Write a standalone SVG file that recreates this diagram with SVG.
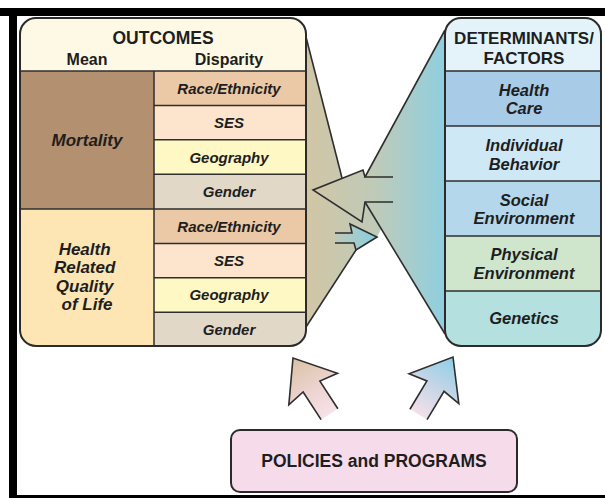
<svg xmlns="http://www.w3.org/2000/svg" width="605" height="498" viewBox="0 0 605 498">
  <style>
    .edge { fill: none; stroke: #2e2e2e; stroke-width: 1.6; stroke-linejoin: miter; }
    .frame { fill: none; stroke: #2b2b2b; stroke-width: 2; }
    .grid { stroke: #2e2e2e; stroke-width: 1.5; }
    .hdr { font-family: "Liberation Sans", Arial, sans-serif; font-weight: bold; fill: #1e1e1e; text-anchor: middle; }
    .lbl { font-family: "Liberation Sans", Arial, sans-serif; font-weight: bold; font-style: italic; fill: #1e1e1e; text-anchor: middle; }
  </style>
  <defs>
    <linearGradient id="coneFill" gradientUnits="userSpaceOnUse" x1="306" y1="0" x2="445" y2="0">
      <stop offset="0" stop-color="#d2c6a6"/>
      <stop offset="0.5" stop-color="#bfcab8"/>
      <stop offset="1" stop-color="#8fcfe0"/>
    </linearGradient>
    <linearGradient id="smallArrowFill" gradientUnits="userSpaceOnUse" x1="335" y1="0" x2="377" y2="0">
      <stop offset="0" stop-color="#bfcab8"/>
      <stop offset="1" stop-color="#86cfe0"/>
    </linearGradient>
    <linearGradient id="tanUp" x1="0" y1="0" x2="0" y2="1">
      <stop offset="0" stop-color="#d9c2a3"/>
      <stop offset="0.55" stop-color="#ecd3cf"/>
      <stop offset="1" stop-color="#f6e2ea"/>
    </linearGradient>
    <linearGradient id="blueUp" x1="0" y1="0" x2="0" y2="1">
      <stop offset="0" stop-color="#8dcfe8"/>
      <stop offset="0.55" stop-color="#c9d6e6"/>
      <stop offset="1" stop-color="#f3e0ea"/>
    </linearGradient>
    <clipPath id="outcomesClip"><rect x="20" y="18" width="286" height="328" rx="16"/></clipPath>
    <clipPath id="factorsClip"><rect x="445" y="18" width="156" height="328" rx="16"/></clipPath>
  </defs>

  <rect width="605" height="498" fill="#ffffff"/>

  <!-- black border strips -->
  <g id="border" fill="#000000">
    <rect x="0" y="8" width="605" height="8"/>
    <rect x="9" y="8" width="8" height="490"/>
    <rect x="9" y="495" width="596" height="3"/>
  </g>

  <!-- funnels and arrows linking the panels -->
  <g id="connectors">
    <polygon fill="url(#coneFill)" points="306,37 342,178 313,190 362,222 365,202 381,229 377,237 356,250 306,327"/>
    <polygon fill="url(#coneFill)" points="445,30 365,177 365,202 445,334"/>
    <polygon fill="url(#coneFill)" points="313,190 363,170 365,177 393,177 393,202 365,202 362,222"/>
    <polyline class="edge" points="306,37 342,178"/>
    <polyline class="edge" points="445,30 365,177 393,177"/>
    <polyline class="edge" points="365,177 363,170 313,190 362,222 365,202 393,202"/>
    <polyline class="edge" points="365,202 445,334"/>
    <polyline class="edge" points="306,327 356,250"/>
    <!-- small arrow toward the determinants -->
    <path class="edge" style="fill:url(#smallArrowFill)" d="M335,233 L352,233 L350,224 L377,237 L356,250 L354,243 L335,243"/>
    <!-- policy arrows -->
    <path transform="translate(293,358) rotate(-33)" class="edge" style="fill:url(#tanUp)" d="M-10,67 L-10,34 L-29,37 L0,0 L29,37 L10,34 L10,67"/>
    <path transform="translate(453,357) rotate(31)" class="edge" style="fill:url(#blueUp)" d="M-10,67 L-10,34 L-29,37 L0,0 L29,37 L10,34 L10,67"/>
  </g>

  <!-- OUTCOMES panel -->
  <g id="outcomes">
    <g clip-path="url(#outcomesClip)">
      <rect x="20" y="18" width="286" height="53" fill="#fdf9e4"/>
      <rect x="20" y="71" width="134" height="138" fill="#b3906f"/>
      <rect x="20" y="209" width="134" height="137" fill="#fde6b4"/>
      <rect x="154" y="71" width="152" height="34.4" fill="#ebc9a6"/>
      <rect x="154" y="105.4" width="152" height="34.4" fill="#fde4cd"/>
      <rect x="154" y="139.8" width="152" height="34.4" fill="#fef8c5"/>
      <rect x="154" y="174.2" width="152" height="34.8" fill="#e1d8c8"/>
      <rect x="154" y="209" width="152" height="34.4" fill="#ebc9a6"/>
      <rect x="154" y="243.4" width="152" height="34.4" fill="#fde4cd"/>
      <rect x="154" y="277.8" width="152" height="34.4" fill="#fef8c5"/>
      <rect x="154" y="312.2" width="152" height="34" fill="#e1d8c8"/>
    </g>
    <g class="grid">
      <line x1="20" y1="71" x2="306" y2="71"/>
      <line x1="20" y1="209" x2="306" y2="209"/>
      <line x1="154" y1="71" x2="154" y2="346"/>
      <line x1="154" y1="105.4" x2="306" y2="105.4"/>
      <line x1="154" y1="139.8" x2="306" y2="139.8"/>
      <line x1="154" y1="174.2" x2="306" y2="174.2"/>
      <line x1="154" y1="243.4" x2="306" y2="243.4"/>
      <line x1="154" y1="277.8" x2="306" y2="277.8"/>
      <line x1="154" y1="312.2" x2="306" y2="312.2"/>
    </g>
    <rect class="frame" x="20" y="18" width="286" height="328" rx="16"/>
    <text class="hdr" x="163" y="43.5" font-size="17.5">OUTCOMES</text>
    <text class="hdr" x="87" y="64.5" font-size="16">Mean</text>
    <text class="hdr" x="229" y="64.5" font-size="16">Disparity</text>
    <text class="lbl" x="87" y="146" font-size="17">Mortality</text>
    <text class="lbl" font-size="17">
      <tspan x="87" y="255">Health</tspan>
      <tspan x="87" y="273.3">Related</tspan>
      <tspan x="87" y="291.6">Quality</tspan>
      <tspan x="87" y="310">of Life</tspan>
    </text>
    <text class="lbl" x="229" y="93.7" font-size="15">Race/Ethnicity</text>
    <text class="lbl" x="229" y="128.1" font-size="15">SES</text>
    <text class="lbl" x="229" y="162.5" font-size="15">Geography</text>
    <text class="lbl" x="229" y="197" font-size="15">Gender</text>
    <text class="lbl" x="229" y="231.5" font-size="15">Race/Ethnicity</text>
    <text class="lbl" x="229" y="265.9" font-size="15">SES</text>
    <text class="lbl" x="229" y="300.3" font-size="15">Geography</text>
    <text class="lbl" x="229" y="334.5" font-size="15">Gender</text>
  </g>

  <!-- DETERMINANTS / FACTORS panel -->
  <g id="factors">
    <g clip-path="url(#factorsClip)">
      <rect x="445" y="18" width="156" height="53" fill="#e4f3f9"/>
      <rect x="445" y="71" width="156" height="55" fill="#a8cbe8"/>
      <rect x="445" y="126" width="156" height="55" fill="#cfe8f5"/>
      <rect x="445" y="181" width="156" height="55" fill="#b4d7eb"/>
      <rect x="445" y="236" width="156" height="55" fill="#cfe6cd"/>
      <rect x="445" y="291" width="156" height="55" fill="#b4e0df"/>
    </g>
    <g class="grid">
      <line x1="445" y1="71" x2="601" y2="71"/>
      <line x1="445" y1="126" x2="601" y2="126"/>
      <line x1="445" y1="181" x2="601" y2="181"/>
      <line x1="445" y1="236" x2="601" y2="236"/>
      <line x1="445" y1="291" x2="601" y2="291"/>
    </g>
    <rect class="frame" x="445" y="18" width="156" height="328" rx="16"/>
    <text class="hdr" x="524" y="44" font-size="17">DETERMINANTS/</text>
    <text class="hdr" x="524" y="64" font-size="17">FACTORS</text>
    <text class="lbl" font-size="16.5"><tspan x="524" y="95.5">Health</tspan><tspan x="524" y="114">Care</tspan></text>
    <text class="lbl" font-size="16.5"><tspan x="524" y="151">Individual</tspan><tspan x="524" y="169.5">Behavior</tspan></text>
    <text class="lbl" font-size="16.5"><tspan x="524" y="205.5">Social</tspan><tspan x="524" y="224">Environment</tspan></text>
    <text class="lbl" font-size="16.5"><tspan x="524" y="260">Physical</tspan><tspan x="524" y="278.5">Environment</tspan></text>
    <text class="lbl" x="524" y="324" font-size="16.5">Genetics</text>
  </g>

  <!-- POLICIES and PROGRAMS box -->
  <g id="policies">
    <rect x="231" y="430" width="286" height="62" rx="9" fill="#f6dbeb" stroke="#2b2b2b" stroke-width="2"/>
    <text class="hdr" x="374" y="467" font-size="17.5">POLICIES and PROGRAMS</text>
  </g>
</svg>
